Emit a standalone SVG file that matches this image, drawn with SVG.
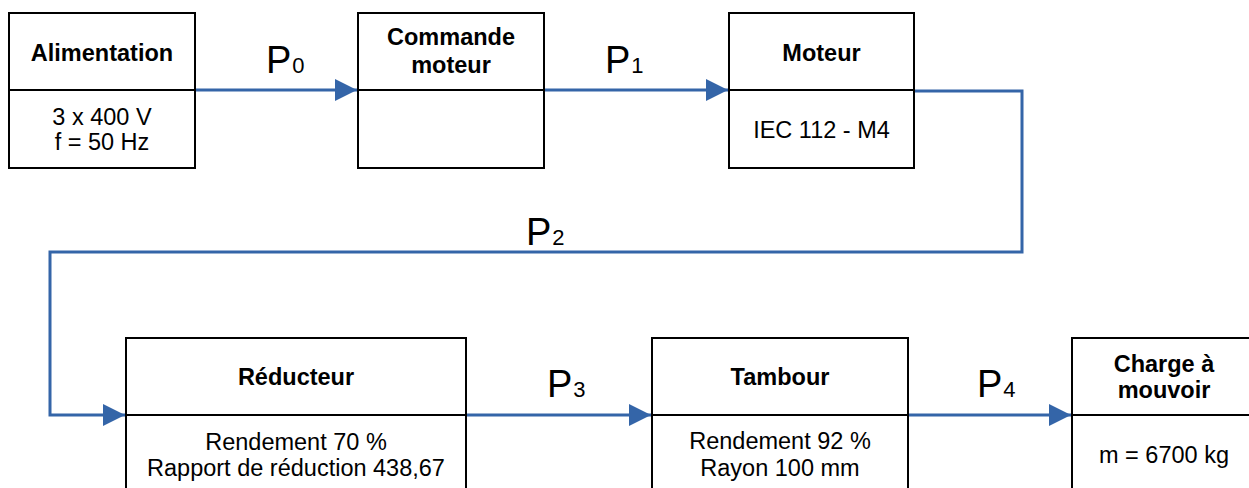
<svg xmlns="http://www.w3.org/2000/svg" width="1249" height="488" viewBox="0 0 1249 488">
<style>
.box{fill:#fff;stroke:#000;stroke-width:2}
.div{stroke:#000;stroke-width:2}
.t{font-family:"Liberation Sans",Arial,sans-serif;font-size:23.5px;font-weight:bold;text-anchor:middle;fill:#000}
.b{font-family:"Liberation Sans",Arial,sans-serif;font-size:23.5px;text-anchor:middle;fill:#000}
.p{font-family:"Liberation Sans",Arial,sans-serif;font-size:38px;fill:#000}
.s{font-size:22px}
.c{fill:none;stroke:#3465a8;stroke-width:3}
</style>
<defs>
<marker id="ah" markerUnits="userSpaceOnUse" markerWidth="24" markerHeight="24" refX="22" refY="11" orient="auto">
<path d="M0,0 L22,11 L0,22 Z" fill="#3465a8"/>
</marker>
</defs>
<g id="connectors">
<path class="c" d="M195,90 H357" marker-end="url(#ah)"/>
<path class="c" d="M544,90 H728" marker-end="url(#ah)"/>
<path class="c" d="M914,91 H1022 V252 H50 V415 H125" marker-end="url(#ah)"/>
<path class="c" d="M466,415 H651" marker-end="url(#ah)"/>
<path class="c" d="M908,415 H1071" marker-end="url(#ah)"/>
<text class="p" x="266" y="73">P<tspan class="s" dx="1">0</tspan></text>
<text class="p" x="605" y="73">P<tspan class="s" dx="1">1</tspan></text>
<text class="p" x="526" y="245">P<tspan class="s" dx="1">2</tspan></text>
<text class="p" x="547" y="397">P<tspan class="s" dx="1">3</tspan></text>
<text class="p" x="977" y="397">P<tspan class="s" dx="1">4</tspan></text>
</g>
<g id="alimentation">
<rect class="box" x="9" y="13" width="186" height="155"/>
<line class="div" x1="9" y1="90" x2="195" y2="90"/>
<text class="t" x="102" y="61">Alimentation</text>
<text class="b" x="102" y="125">3 x 400 V</text>
<text class="b" x="102" y="150">f = 50 Hz</text>
</g>
<g id="commande">
<rect class="box" x="358" y="13" width="186" height="155"/>
<line class="div" x1="358" y1="90" x2="544" y2="90"/>
<text class="t" x="451" y="45">Commande</text>
<text class="t" x="451" y="73">moteur</text>
</g>
<g id="moteur">
<rect class="box" x="729" y="13" width="185" height="155"/>
<line class="div" x1="729" y1="90" x2="914" y2="90"/>
<text class="t" x="821.5" y="61">Moteur</text>
<text class="b" x="821.5" y="138">IEC 112 - M4</text>
</g>
<g id="reducteur">
<rect class="box" x="126" y="338" width="340" height="160"/>
<line class="div" x1="126" y1="415" x2="466" y2="415"/>
<text class="t" x="296" y="385">Réducteur</text>
<text class="b" x="296" y="450">Rendement 70 %</text>
<text class="b" x="296" y="476">Rapport de réduction 438,67</text>
</g>
<g id="tambour">
<rect class="box" x="652" y="338" width="256" height="160"/>
<line class="div" x1="652" y1="415" x2="908" y2="415"/>
<text class="t" x="780" y="385">Tambour</text>
<text class="b" x="780" y="449">Rendement 92 %</text>
<text class="b" x="780" y="476">Rayon 100 mm</text>
</g>
<g id="charge">
<rect class="box" x="1072" y="338" width="190" height="160"/>
<line class="div" x1="1072" y1="415" x2="1262" y2="415"/>
<text class="t" x="1164" y="372">Charge à</text>
<text class="t" x="1164" y="398">mouvoir</text>
<text class="b" x="1164" y="463">m = 6700 kg</text>
</g>
</svg>
